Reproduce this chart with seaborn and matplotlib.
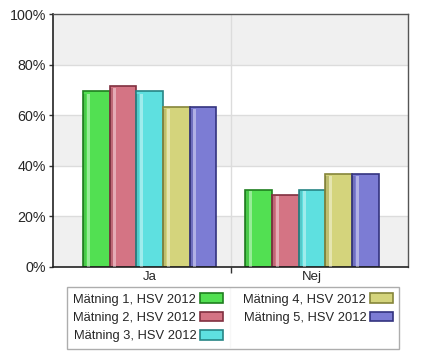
import numpy as np
import matplotlib
matplotlib.use("Agg")
import matplotlib.pyplot as plt
import matplotlib.patches as mpatches
import seaborn as sns
import pandas as pd

# data (percent)
answers = ["Ja", "Nej"]
series = ["Mätning 1, HSV 2012", "Mätning 2, HSV 2012", "Mätning 3, HSV 2012",
          "Mätning 4, HSV 2012", "Mätning 5, HSV 2012"]
ja_vals = [69.5, 71.7, 69.5, 63.4, 63.4]
nej_vals = [30.5, 28.3, 30.5, 36.6, 36.6]
fills = ["#52e052", "#d47484", "#5ee0e0", "#d4d47c", "#7c7cd4"]
edges = ["#1f7f1f", "#803040", "#278585", "#85853a", "#33337f"]

rows = []
for s, j, n in zip(series, ja_vals, nej_vals):
    rows.append({"svar": "Ja", "serie": s, "pct": j})
    rows.append({"svar": "Nej", "serie": s, "pct": n})
df = pd.DataFrame(rows)

sns.set_style("white")
plt.rcParams["font.family"] = ["Liberation Sans", "DejaVu Sans"]

fig = plt.figure(figsize=(4.22, 3.61), dpi=100)
ax = fig.add_axes([53/422, 1-267/361, 355/422, 253/361])

# alternating bands + grid
for lo in [0, 40, 80]:
    ax.axhspan(lo, lo+20, color="#f0f0f0", zorder=0, lw=0)
for y in [20, 40, 60, 80]:
    ax.axhline(y, color="#dcdcdc", lw=1, zorder=0.5)
ax.axvline(0.5, color="#dcdcdc", lw=1, zorder=0.5)

sns.barplot(data=df, x="svar", y="pct", hue="serie", order=answers,
            hue_order=series, palette=fills, width=0.82, ax=ax,
            saturation=1, legend=False, zorder=2)

for k, cont in enumerate(ax.containers):
    for p in cont:
        p.set_edgecolor(edges[k])
        p.set_linewidth(1.2)
        # glossy look: darker left edge, light stripe next to it
        x0, w, h = p.get_x(), p.get_width(), p.get_height()
        ax.add_patch(mpatches.Rectangle((x0, 0), w*0.12, h*0.985,
                                        color="black", alpha=0.10, lw=0, zorder=3))
        ax.add_patch(mpatches.Rectangle((x0 + w*0.14, 0), w*0.12, h*0.985,
                                        color="white", alpha=0.40, lw=0, zorder=3))

ax.set_xlim(-0.594, 1.59)
ax.set_ylim(0, 100)
ax.set_yticks([0, 20, 40, 60, 80, 100])
ax.set_yticklabels([f"{v}%" for v in range(0, 101, 20)], fontsize=10.3)
ax.set_xticks([0, 1])
ax.set_xticklabels(answers, fontsize=9.5)
ax.set_xticks([0.5], minor=True)
ax.tick_params(axis="x", which="major", length=0, pad=3)
ax.tick_params(axis="x", which="minor", length=4, width=1, color="#333333", bottom=True)
ax.tick_params(axis="y", length=3, width=1, color="#333333", pad=2, left=True)
ax.set_xlabel("")
ax.set_ylabel("")
for side in ["top", "right"]:
    ax.spines[side].set_visible(True)
    ax.spines[side].set_color("#555555")
    ax.spines[side].set_linewidth(1)
for side in ["left", "bottom"]:
    ax.spines[side].set_color("#222222")
    ax.spines[side].set_linewidth(1.2)

handles = [mpatches.Patch(facecolor=f, edgecolor=e, lw=1.2, label=s)
           for s, f, e in zip(series, fills, edges)]
leg = fig.legend(handles=handles, ncol=2, loc="upper left",
                 bbox_to_anchor=(67/422, 1-287/361),
                 markerfirst=False, fontsize=9.3, frameon=True, fancybox=False,
                 edgecolor="#999999", handlelength=1.8, handleheight=0.7,
                 handletextpad=0.25, labelspacing=0.5, borderpad=0.5,
                 columnspacing=1.6, borderaxespad=0)
leg.get_frame().set_linewidth(1)
fig.add_artist(plt.Line2D([230/422, 230/422], [14/361, 73/361],
                          color="#dcdcdc", lw=1, transform=fig.transFigure))

fig.savefig("out.png", dpi=100)
